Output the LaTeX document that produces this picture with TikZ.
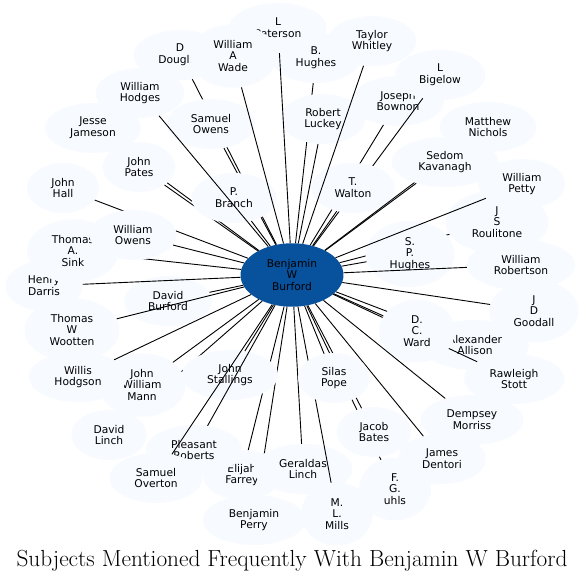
\documentclass[tikz,border=0pt]{standalone}
\usepackage{fontspec}
\usepackage{xcolor}
\usetikzlibrary{shapes.geometric}
\newfontfamily\labelfont{DejaVu Sans}
\definecolor{hubblue}{HTML}{08519C}
\definecolor{subjfill}{HTML}{F7FBFF}

\begin{document}
\begin{tikzpicture}[x=1pt,y=-1pt,
    subj/.style={ellipse,fill=subjfill,align=center,inner xsep=11.2pt,inner ysep=6.5pt,
        minimum width=72pt,minimum height=50pt,font=\labelfont\fontsize{10.7}{11.8}\selectfont},
    hub/.style={subj,fill=hubblue},
    link/.style={line width=0.9pt,black}]
    \useasboundingbox (0,0) rectangle (585,584);

    % the person in the middle; every subject gets one line to it
    \node[hub] (bwb) at (292,275) {Benjamin\\W\\Burford};

    % drawn one subject at a time, so later ellipses cover earlier lines and names
    \node[subj] (dburford) at (168,301) {David\\Burford};
    \draw[link] (bwb) -- (dburford);
    \node[subj] (darris) at (44,286) {Henry\\Darris};
    \draw[link] (bwb) -- (darris);
    \node[subj] (hall) at (63,188) {John\\Hall};
    \draw[link] (bwb) -- (hall);
    \node[subj] (sink) at (73,251) {Thomas\\A.\\Sink};
    \draw[link] (bwb) -- (sink);
    \node[subj] (wowens) at (133,235) {William\\Owens};
    \draw[link] (bwb) -- (wowens);
    \node[subj] (jameson) at (93,128) {Jesse\\Jameson};
    \draw[link] (bwb) -- (jameson);
    \node[subj] (pates) at (139,167) {John\\Pates};
    \draw[link] (bwb) -- (pates);
    \node[subj] (douglas) at (180,55) {D\\Douglas};
    \draw[link] (bwb) -- (douglas);
    \node[subj] (bhughes) at (316,58) {B.\\Hughes};
    \draw[link] (bwb) -- (bhughes);
    \node[subj] (luckey) at (323,119) {Robert\\Luckey};
    \draw[link] (bwb) -- (luckey);
    \node[subj] (peterson) at (278,28) {L\\Peterson};
    \draw[link] (bwb) -- (peterson);
    \node[subj] (sowens) at (211,124) {Samuel\\Owens};
    \draw[link] (bwb) -- (sowens);
    \node[subj] (branch) at (234,198) {P.\\Branch};
    \draw[link] (bwb) -- (branch);
    \node[subj] (wade) at (233,56) {William\\A\\Wade};
    \draw[link] (bwb) -- (wade);
    \node[subj] (hodges) at (140,93) {William\\Hodges};
    \draw[link] (bwb) -- (hodges);
    \node[subj] (bownon) at (398,101) {Joseph\\Bownon};
    \draw[link] (bwb) -- (bownon);
    \node[subj] (bigelow) at (440,75) {L\\Bigelow};
    \draw[link] (bwb) -- (bigelow);
    \node[subj] (walton) at (353,188) {T.\\Walton};
    \draw[link] (bwb) -- (walton);
    \node[subj] (whitley) at (372,41) {Taylor\\Whitley};
    \draw[link] (bwb) -- (whitley);
    \node[subj] (nichols) at (488,127) {Matthew\\Nichols};
    \draw[link] (bwb) -- (nichols);
    \node[subj] (kavanagh) at (445,162) {Sedom\\Kavanagh};
    \draw[link] (bwb) -- (kavanagh);
    \node[subj] (roulitone) at (497,222) {J\\S\\Roulitone};
    \draw[link] (bwb) -- (roulitone);
    \node[subj] (sphughes) at (410,254) {S.\\P.\\Hughes};
    \draw[link] (bwb) -- (sphughes);
    \node[subj] (petty) at (522,184) {William\\Petty};
    \draw[link] (bwb) -- (petty);
    \node[subj] (robertson) at (521,265) {William\\Robertson};
    \draw[link] (bwb) -- (robertson);
    \node[subj] (goodall) at (534,311) {J\\D\\Goodall};
    \draw[link] (bwb) -- (goodall);
    \node[subj] (allison) at (475,345) {Alexander\\Allison};
    \draw[link] (bwb) -- (allison);
    \node[subj] (stott) at (514,379) {Rawleigh\\Stott};
    \draw[link] (bwb) -- (stott);
    \node[subj,minimum width=76pt] (ward) at (417,331) {D.\\C.\\Ward};
    \draw[link] (bwb) -- (ward);
    \node[subj] (morriss) at (472,420) {Dempsey\\Morriss};
    \draw[link] (bwb) -- (morriss);
    \node[subj] (dentori) at (442,459) {James\\Dentori};
    \draw[link] (bwb) -- (dentori);
    \node[subj] (uhls) at (395,489) {F.\\G.\\uhls};
    \draw[link] (bwb) -- (uhls);
    \node[subj] (bates) at (374,432) {Jacob\\Bates};
    \draw[link] (bwb) -- (bates);
    \node[subj] (perry) at (254,520) {Benjamin\\Perry};
    \draw[link] (bwb) -- (perry);
    \node[subj] (farrey) at (242,475) {Elijah\\Farrey};
    \draw[link] (bwb) -- (farrey);
    \node[subj] (geraldas) at (303,469) {Geraldas\\Linch};
    \draw[link] (bwb) -- (geraldas);
    \node[subj] (mills) at (337,514) {M.\\L.\\Mills};
    \draw[link] (bwb) -- (mills);
    \node[subj] (pope) at (334,378) {Silas\\Pope};
    \draw[link] (bwb) -- (pope);
    \node[subj] (dlinch) at (109,435) {David\\Linch};
    \draw[link] (bwb) -- (dlinch);
    \node[subj] (mann) at (142,385) {John\\William\\Mann};
    \draw[link] (bwb) -- (mann);
    \node[subj] (hodgson) at (78,377) {Willis\\Hodgson};
    \draw[link] (bwb) -- (hodgson);
    \node[subj] (stallings) at (230,375) {John\\Stallings};
    \draw[link] (bwb) -- (stallings);
    \node[subj] (proberts) at (194,450) {Pleasant\\Roberts};
    \draw[link] (bwb) -- (proberts);
    \node[subj] (overton) at (156,478) {Samuel\\Overton};
    \draw[link] (bwb) -- (overton);
    \node[subj] (wootten) at (72,330) {Thomas\\W\\Wootten};
    \draw[link] (bwb) -- (wootten);

    \node (title) at (292,561) {\fontsize{23.3}{26}\selectfont Subjects Mentioned Frequently With Benjamin W Burford};
\end{tikzpicture}
\end{document}
